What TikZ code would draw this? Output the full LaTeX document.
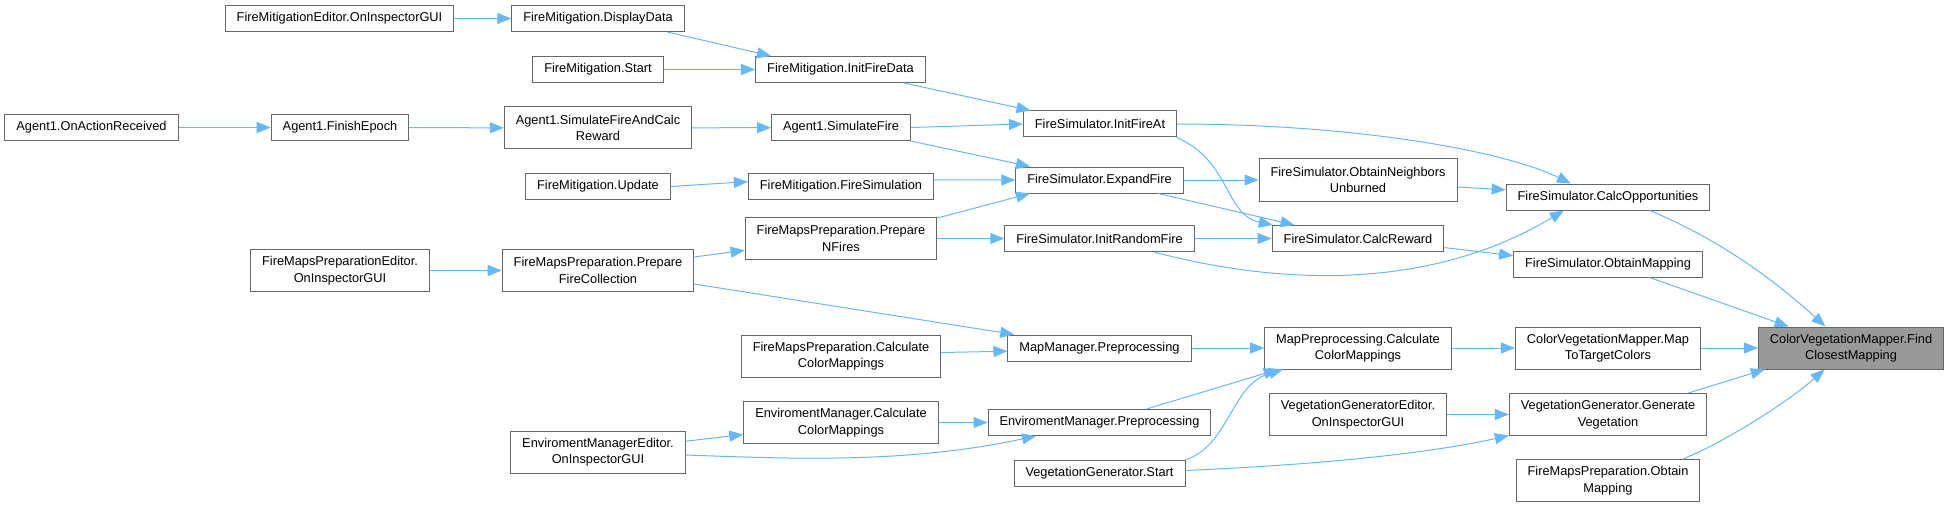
\documentclass[tikz,border=0pt]{standalone}
\usepackage{fontspec}
\setmainfont{Liberation Sans}
\usepackage{xcolor}
\usepackage{tikz}
\usetikzlibrary{arrows.meta}
\definecolor{edgeblue}{HTML}{63B8FF}
\definecolor{boxgray}{HTML}{666666}
\definecolor{focusgray}{HTML}{999999}

\begin{document}
\begin{tikzpicture}[
      x=1pt, y=-1pt,
      box/.style={draw=boxgray, line width=1pt, fill=white, align=center, minimum height=26pt, inner xsep=11.5pt, inner ysep=0pt, font=\fontsize{12.8}{16.5}\selectfont},
      tall/.style={box, minimum height=42pt},
      focus/.style={tall, fill=focusgray},
      arr/.style={edgeblue, line width=1pt, -{Triangle[length=14pt, width=11pt]}}
    ]
    \useasboundingbox (0,0) rectangle (1949,508);

    \node[box] (onaction) at (91.5,127.5) {Agent1.OnActionReceived};
    \node[box] (fmeditor) at (339.5,18.5) {FireMitigationEditor.OnInspectorGUI};
    \node[box] (finish) at (340,127.5) {Agent1.FinishEpoch};
    \node[tall] (fmpeditor) at (340,270.5) {FireMapsPreparationEditor.\\OnInspectorGUI};
    \node[box] (display) at (598,18.5) {FireMitigation.DisplayData};
    \node[box] (fmstart) at (598,69.5) {FireMitigation.Start};
    \node[tall] (simcalc) at (598,128) {Agent1.SimulateFireAndCalc\\Reward};
    \node[box] (fmupdate) at (598,186.5) {FireMitigation.Update};
    \node[tall] (prepcoll) at (598,270.5) {FireMapsPreparation.Prepare\\FireCollection};
    \node[tall] (emeditor) at (598,452) {EnviromentManagerEditor.\\OnInspectorGUI};
    \node[box] (initdata) at (840.5,69.5) {FireMitigation.InitFireData};
    \node[box] (simfire) at (841,127.5) {Agent1.SimulateFire};
    \node[box] (firesim) at (841,186.5) {FireMitigation.FireSimulation};
    \node[tall] (prepn) at (841,238.5) {FireMapsPreparation.Prepare\\NFires};
    \node[tall] (fmpcalc) at (841,356) {FireMapsPreparation.Calculate\\ColorMappings};
    \node[tall] (emcalc) at (841,422.5) {EnviromentManager.Calculate\\ColorMappings};
    \node[box] (initat) at (1100,124) {FireSimulator.InitFireAt};
    \node[box] (expand) at (1099.5,180) {FireSimulator.ExpandFire};
    \node[box] (initrand) at (1099.5,238.5) {FireSimulator.InitRandomFire};
    \node[box] (mmprep) at (1099.5,348) {MapManager.Preprocessing};
    \node[box] (emprep) at (1099.5,422.5) {EnviromentManager.Preprocessing};
    \node[box] (vgstart) at (1099.5,473.5) {VegetationGenerator.Start};
    \node[tall] (neigh) at (1358,180) {FireSimulator.ObtainNeighbors\\Unburned};
    \node[box] (reward) at (1358,238.5) {FireSimulator.CalcReward};
    \node[tall] (mpcalc) at (1358,348) {MapPreprocessing.Calculate\\ColorMappings};
    \node[tall] (vgeditor) at (1358,414.5) {VegetationGeneratorEditor.\\OnInspectorGUI};
    \node[box] (calcopp) at (1608,197) {FireSimulator.CalcOpportunities};
    \node[box] (obtmap) at (1608,264) {FireSimulator.ObtainMapping};
    \node[tall] (maptgt) at (1608,348) {ColorVegetationMapper.Map\\ToTargetColors};
    \node[tall] (genveg) at (1608,414.5) {VegetationGenerator.Generate\\Vegetation};
    \node[tall] (fmpobt) at (1608,480.5) {FireMapsPreparation.Obtain\\Mapping};
    \node[focus] (closest) at (1851,348) {ColorVegetationMapper.Find\\ClosestMapping};

    \draw[arr] (onaction) -- (finish);
    \draw[arr] (finish) -- (simcalc);
    \draw[arr] (simcalc) -- (simfire);
    \draw[arr] (fmeditor) -- (display);
    \draw[arr] (display.-11) -- (initdata.169);
    \draw[arr] (fmstart) -- (initdata);
    \draw[arr] (fmupdate.east) -- (firesim.177);
    \draw[arr] (fmpeditor) -- (prepcoll);
    \draw[arr] (prepcoll.8) -- (prepn.187);
    \draw[arr] (prepcoll.-8) -- (mmprep.171);
    \draw[arr] (emeditor.7) -- (emcalc.187);
    \draw[arr] (emeditor.-2) .. controls +(95,3) and +(-135,29) .. (emprep.192);
    \draw[arr] (initdata.-12) -- (initat.169);
    \draw[arr] (simfire.east) -- (initat.west);
    \draw[arr] (simfire.-11) -- (expand.169);
    \draw[arr] (firesim.4) -- (expand.west);
    \draw[arr] (prepn.12) -- (expand.191);
    \draw[arr] (prepn) -- (initrand);
    \draw[arr] (fmpcalc.2) -- (mmprep.182);
    \draw[arr] (emcalc) -- (emprep);
    \draw[arr] (initat.east) .. controls +(172,0) and +(-70,-34) .. (calcopp.160);
    \draw[arr] (initat.-10) .. controls +(54,23) and +(-48,-10) .. (reward.171);
    \draw[arr] (expand) -- (neigh);
    \draw[arr] (expand.-13) -- (reward.168);
    \draw[arr] (initrand) -- (reward);
    \draw[arr] (initrand.-14) .. controls +(145,38) and +(-123,74) .. (calcopp.197);
    \draw[arr] (mmprep) -- (mpcalc);
    \draw[arr] (emprep.16) -- (mpcalc.195);
    \draw[arr] (vgstart.north east) .. controls +(44,-15) and +(-52,15) .. (mpcalc.196);
    \draw[arr] (vgstart.2) .. controls +(114,-5) and +(-90,20) .. (genveg.192);
    \draw[arr] (neigh.-4) -- (calcopp.176);
    \draw[arr] (reward.-6) -- (obtmap.175);
    \draw[arr] (mpcalc) -- (maptgt);
    \draw[arr] (vgeditor) -- (genveg);
    \draw[arr] (calcopp.-18) .. controls +(73,30) and +(-46,-42) .. (closest.140);
    \draw[arr] (obtmap.-18) -- (closest.161);
    \draw[arr] (maptgt) -- (closest);
    \draw[arr] (genveg.15) -- (closest.194);
    \draw[arr] (fmpobt.16) .. controls +(46,-19) and +(-35,31) .. (closest.219);
  \end{tikzpicture}
\end{document}
